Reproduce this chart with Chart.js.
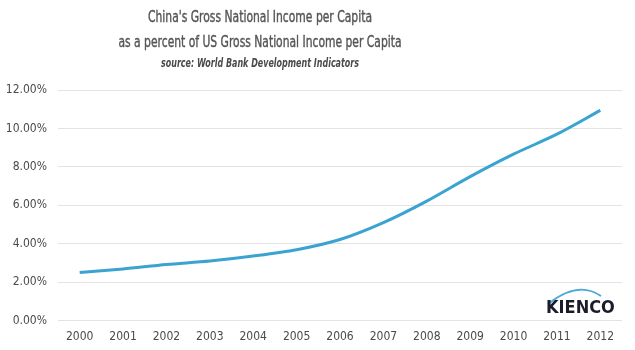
<!DOCTYPE html>
<html>
<head>
<meta charset="utf-8">
<script src="https://cdn.jsdelivr.net/npm/chart.js@4/dist/chart.umd.min.js"></script>
<style>
  html, body { margin: 0; padding: 0; background: #fff; }
  #wrap { position: relative; width: 635px; height: 350px; }
</style>
</head>
<body>
<div id="wrap"><canvas id="chartGni" width="635" height="350"></canvas></div>
<script>
// China GNI per capita as % of US GNI per capita
const years = ['2000', '2001', '2002', '2003', '2004', '2005', '2006', '2007', '2008', '2009', '2010', '2011', '2012'];
const chinaPct = [2.50, 2.69, 2.92, 3.10, 3.36, 3.69, 4.22, 5.10, 6.22, 7.49, 8.66, 9.70, 10.94];
const yTicks = [0, 2, 4, 6, 8, 10, 12];

const titleLines = ["China's Gross National Income per Capita", 'as a percent of US Gross National Income per Capita'];
const sourceLine = 'source: World Bank Development Indicators';

const FONT = "'DejaVu Sans Condensed', sans-serif";
const TXT = '#555555';

// headings: the original uses a very narrow face, so squeeze with fillText maxWidth
const headPlugin = {
  id: 'heads',
  afterDraw(chart) {
    const c = chart.ctx;
    const cx = 260;
    c.save();
    c.textAlign = 'center';
    c.textBaseline = 'middle';
    c.fillStyle = TXT;
    c.strokeStyle = TXT;
    c.lineWidth = 0.4;
    c.font = "16px " + FONT;
    c.fillText(titleLines[0], cx, 18, 224);
    c.strokeText(titleLines[0], cx, 18, 224);
    c.fillText(titleLines[1], cx, 43, 283);
    c.strokeText(titleLines[1], cx, 43, 283);
    c.fillStyle = '#4a4a4a';
    c.font = "italic bold 13px " + FONT;
    c.fillText(sourceLine, cx, 64, 198);
    c.restore();
  }
};

// small logo drawn on the canvas, bottom right
const logoPlugin = {
  id: 'logo',
  afterDraw(chart) {
    const c = chart.ctx;
    c.save();
    c.strokeStyle = '#4aa8d8';
    c.lineWidth = 1.8;
    c.beginPath();
    c.moveTo(548, 304);
    c.quadraticCurveTo(578, 280, 601, 296);
    c.stroke();
    c.fillStyle = '#1b1b2b';
    c.font = "bold 18px " + FONT;
    c.textBaseline = 'alphabetic';
    c.fillText('KIENCO', 546, 313, 69);
    c.restore();
  }
};

new Chart(document.getElementById('chartGni'), {
  type: 'line',
  data: {
    labels: years,
    datasets: [{
      label: 'China / US GNI per capita',
      data: chinaPct,
      borderColor: '#3aa3d1',
      borderWidth: 3,
      pointRadius: 0,
      tension: 0.3,
      fill: false,
    }],
  },
  options: {
    responsive: false,
    animation: false,
    layout: { padding: { left: 2, right: 13, top: 90, bottom: 5 } },
    plugins: {
      legend: { display: false },
      tooltip: { enabled: false },
      title: { display: false },
    },
    scales: {
      x: {
        offset: true,
        grid: { display: false },
        border: { display: false },
        ticks: { color: '#4a4a4a', font: { family: FONT, size: 12 }, padding: 1, maxRotation: 0 },
      },
      y: {
        min: yTicks[0],
        max: yTicks[yTicks.length - 1],
        afterBuildTicks(axis) { axis.ticks = yTicks.map(v => ({ value: v })); },
        afterFit(axis) { axis.width = 56; },
        grid: { color: '#e3e3e3', lineWidth: 1, drawTicks: false },
        border: { display: false },
        ticks: {
          color: '#4a4a4a',
          font: { family: FONT, size: 12 },
          padding: 11,
          callback: v => v.toFixed(2) + '%',
        },
      },
    },
  },
  plugins: [headPlugin, logoPlugin],
});
</script>
</body>
</html>
